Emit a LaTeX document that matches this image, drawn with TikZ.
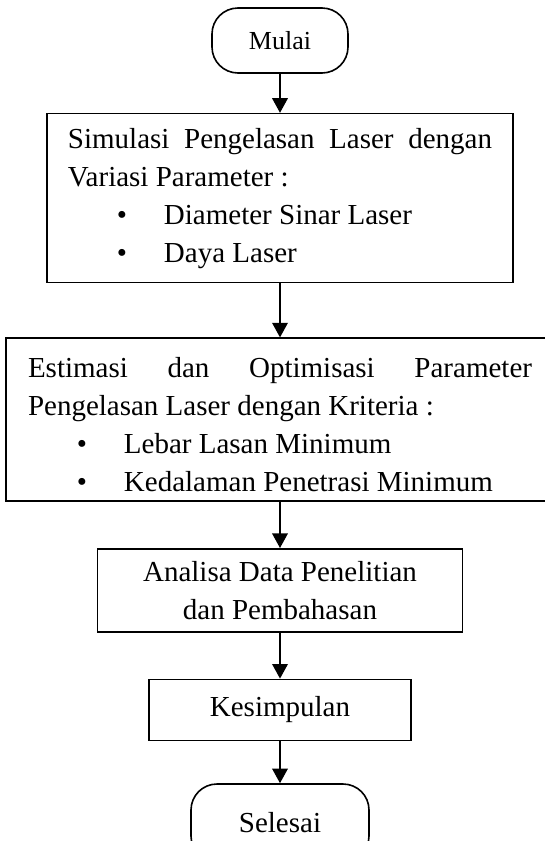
\documentclass[tikz,border=0pt]{standalone}
\usepackage{fontspec}
\setmainfont{Liberation Serif}
\usetikzlibrary{arrows.meta, positioning}
\setlength{\parindent}{0pt}
\tikzset{
  terminal/.style={draw, rectangle, rounded corners=13pt, line width=0.8pt, font=\fontsize{14.5pt}{19pt}\selectfont},
  proses/.style={draw, rectangle, line width=0.8pt, inner sep=0pt, font=\fontsize{14.5pt}{19pt}\selectfont},
  panah/.style={-{Triangle[length=7.3pt, width=7.8pt]}, line width=0.8pt}
}
\newcommand{\butir}[1]{\hspace*{24.5pt}\makebox[23.5pt][l]{\textbullet}#1}

\begin{document}
\begin{tikzpicture}
            \useasboundingbox (0,0) rectangle (272.5pt,-420.5pt);
            \clip (0,0) rectangle (272.5pt,-420.5pt);

            \node[terminal, minimum width=68pt, minimum height=32.5pt, font=\fontsize{13pt}{16pt}\selectfont] (mulai) at (140pt,-20.25pt) {Mulai};
            \node[proses, below=19.5pt of mulai, minimum width=233pt, minimum height=84.5pt, text width=212pt, align=justify] (simulasi)
                {\makebox[212pt][s]{Simulasi Pengelasan Laser dengan}\\Variasi Parameter :\\\butir{Diameter Sinar Laser}\\\butir{Daya Laser}};
            \node[proses, below=27pt of simulasi, minimum width=274pt, minimum height=81.5pt, text width=252pt, align=justify] (estimasi)
                {\rule{0pt}{15pt}\makebox[252pt][s]{Estimasi dan Optimisasi Parameter}\\Pengelasan Laser dengan Kriteria :\\\butir{Lebar Lasan Minimum}\\\butir{Kedalaman Penetrasi Minimum}};
            \node[proses, below=23pt of estimasi, minimum width=182.5pt, minimum height=41.5pt, align=center] (analisa) {Analisa Data Penelitian\\dan Pembahasan};
            \node[proses, below=23pt of analisa, minimum width=131pt, minimum height=30.5pt] (kesimpulan) {Kesimpulan};
            \node[terminal, below=21pt of kesimpulan, minimum width=89pt, minimum height=39pt] (selesai) {Selesai};

            \draw[panah] (mulai) -- (simulasi);
            \draw[panah] (simulasi) -- (estimasi);
            \draw[panah] (estimasi) -- (analisa);
            \draw[panah] (analisa) -- (kesimpulan);
            \draw[panah] (kesimpulan) -- (selesai);
\end{tikzpicture}
\end{document}
